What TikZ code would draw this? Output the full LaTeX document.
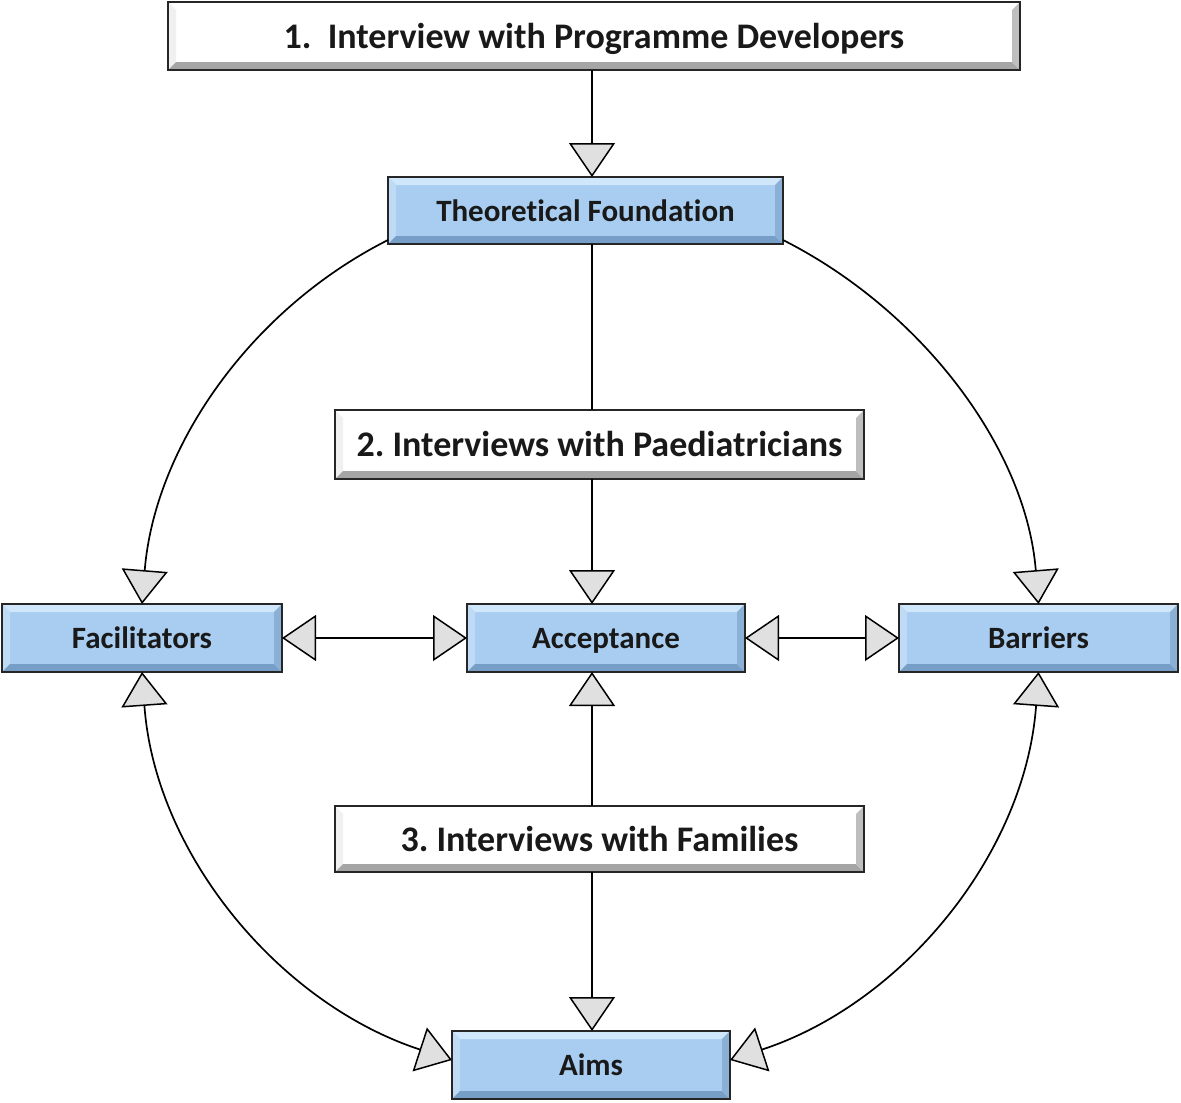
\documentclass[tikz,border=0pt]{standalone}
\usepackage{fontspec}
\setmainfont{Carlito}[Ligatures={NoCommon}]
\usetikzlibrary{arrows.meta,calc}
\definecolor{boxblue}{RGB}{168,205,240}
\definecolor{bbtop}{RGB}{208,230,250}
\definecolor{bbleft}{RGB}{190,218,245}
\definecolor{bbbot}{RGB}{118,158,198}
\definecolor{bbright}{RGB}{138,176,214}
\definecolor{wbtop}{RGB}{255,255,255}
\definecolor{wbleft}{RGB}{240,240,240}
\definecolor{wbbot}{RGB}{165,165,165}
\definecolor{wbright}{RGB}{190,190,190}
\tikzset{
  bev/.style n args={4}{path picture={
    \coordinate (bnw) at (path picture bounding box.north west);
    \coordinate (bne) at (path picture bounding box.north east);
    \coordinate (bsw) at (path picture bounding box.south west);
    \coordinate (bse) at (path picture bounding box.south east);
    \fill[#1] (bnw) -- (bne) -- ($(bne)+(-8pt,-8pt)$) -- ($(bnw)+(8pt,-8pt)$) -- cycle;
    \fill[#2] (bnw) -- (bsw) -- ($(bsw)+(8pt,8pt)$) -- ($(bnw)+(8pt,-8pt)$) -- cycle;
    \fill[#3] (bsw) -- (bse) -- ($(bse)+(-8pt,8pt)$) -- ($(bsw)+(8pt,8pt)$) -- cycle;
    \fill[#4] (bne) -- (bse) -- ($(bse)+(-8pt,8pt)$) -- ($(bne)+(-8pt,-8pt)$) -- cycle;
  }},
  basebox/.style={draw=black!85, line width=1.8pt, outer sep=0pt, inner sep=0pt, text=black!90},
  bluebox/.style={basebox, fill=boxblue, bev={bbtop}{bbleft}{bbbot}{bbright},
    font=\frenchspacing\bfseries\fontsize{31}{36}\selectfont, text height=21pt, text depth=0pt},
  whitebox/.style={basebox, fill=white, bev={wbtop}{wbleft}{wbbot}{wbright},
    font=\frenchspacing\bfseries\fontsize{36}{42}\selectfont, text height=24pt, text depth=0pt},
  conn/.style={draw=black, line width=1.7pt},
  >={Triangle[length=34pt,width=46pt,fill=black!12,line width=1.5pt]},
}
\begin{document}
\begin{tikzpicture}[x=1pt,y=1pt]
\useasboundingbox (0,0) rectangle (1181,-1103);
\coordinate (spine) at (592,0);
\node[whitebox, minimum width=852pt, minimum height=68pt] (p1) at (594,-36) {1.\ \ Interview with Programme Developers};
\node[bluebox, minimum width=395pt, minimum height=67pt] (tf) at (585.5,-210.5) {Theoretical Foundation};
\node[whitebox, minimum width=529pt, minimum height=69pt] (p2) at (599.5,-444.5) {2. Interviews with Paediatricians};
\node[bluebox, minimum width=280pt, minimum height=68pt] (fac) at (142,-638) {Facilitators};
\node[bluebox, minimum width=278pt, minimum height=68pt] (acc) at (606,-638) {Acceptance};
\node[bluebox, minimum width=279pt, minimum height=68pt] (bar) at (1038.5,-638) {Barriers};
\node[whitebox, minimum width=529pt, minimum height=66pt] (p3) at (599.5,-839) {3. Interviews with Families};
\node[bluebox, minimum width=278pt, minimum height=68pt] (aims) at (591,-1065) {Aims};

\draw[conn,->] (p1.south -| spine) -- (tf.north -| spine);
\draw[conn] (tf.south -| spine) -- (p2.north -| spine);
\draw[conn,->] (p2.south -| spine) -- (acc.north -| spine);
\draw[conn,->] (p3.north -| spine) -- (acc.south -| spine);
\draw[conn,->] (p3.south -| spine) -- (aims.north -| spine);
\draw[conn,<->] (fac.east) -- (acc.west);
\draw[conn,<->] (acc.east) -- (bar.west);

\draw[conn,->] ($(tf.south west)+(0,4)$) to[out=206.8,in=85.4,out distance=156pt,in distance=156pt] (fac.north);
\draw[conn,->] ($(tf.south east)+(0,4)$) to[out=-26.8,in=94.6,out distance=156pt,in distance=156pt] (bar.north);
\draw[conn,<->] (fac.south) to[out=274.1,in=161.9,out distance=182pt,in distance=182pt] ($(aims.west)+(0,5)$);
\draw[conn,<->] (bar.south) to[out=265.9,in=18.1,out distance=182pt,in distance=182pt] ($(aims.east)+(0,5)$);
\end{tikzpicture}
\end{document}
